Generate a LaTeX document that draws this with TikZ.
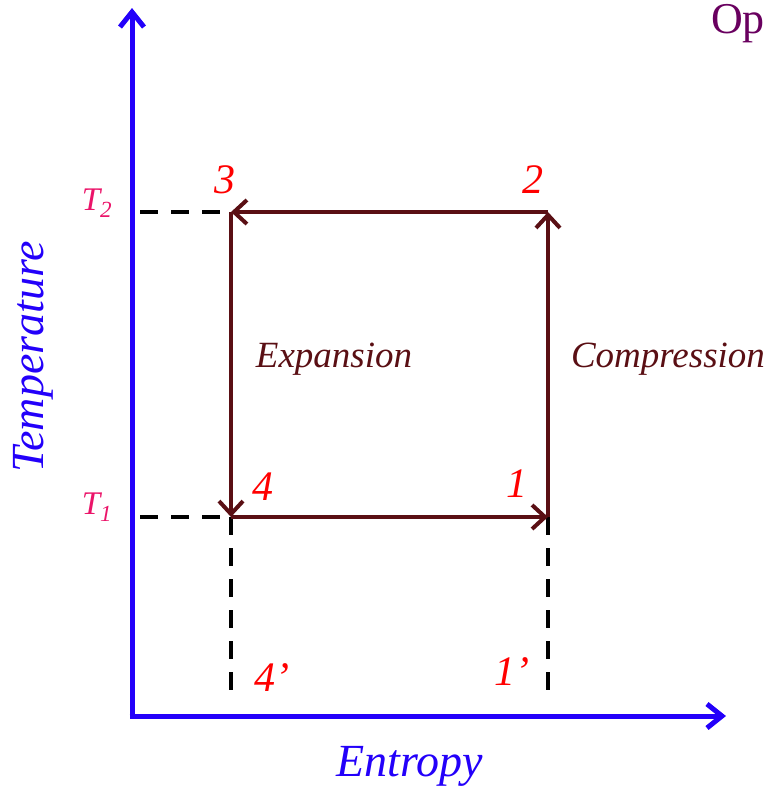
\documentclass[tikz,border=0pt]{standalone}
\usepackage{fontspec}
\setmainfont{Liberation Serif}
\usetikzlibrary{arrows.meta}
\definecolor{axisblue}{RGB}{35,0,250}
\definecolor{cyclebrown}{RGB}{90,15,20}
\definecolor{tpink}{RGB}{235,20,105}
\definecolor{oppurple}{RGB}{105,0,95}
\tikzstyle{axis}=[-{Straight Barb[length=15pt,width=24pt]}, line width=5pt, axisblue]
\tikzstyle{cycle}=[-{Straight Barb[length=13pt,width=24pt]}, line width=4pt, cyclebrown]
\tikzstyle{guide}=[line width=4pt, black, dash pattern=on 18pt off 13pt]
\tikzstyle{state}=[red, font=\fontsize{42}{46}\selectfont\itshape]
\tikzstyle{proc}=[cyclebrown, font=\fontsize{37}{40}\selectfont\itshape]
\tikzstyle{tlab}=[tpink, font=\fontsize{33}{36}\selectfont\itshape]
\begin{document}
\begin{tikzpicture}[x=1pt,y=-1pt]
\useasboundingbox (0,0) rectangle (769,793);
\coordinate (O) at (132,716);
\coordinate (Ytip) at (132,8);
\coordinate (Xtip) at (726,716);
\coordinate (p1) at (548,517);
\coordinate (p2) at (548,212);
\coordinate (p3) at (231,212);
\coordinate (p4) at (231,517);
\coordinate (q1) at (548,700);
\coordinate (q4) at (231,700);
\coordinate (a2) at (140,212);
\coordinate (a1) at (140,517);
\node[state] (n3) at (225,180) {3};
\node[state] (n2) at (533,180) {2};
\node[state] (n4) at (263,487) {4};
\node[state] (n1) at (517,484) {1};
\node[state] (n4p) at (272,678) {4’};
\node[state] (n1p) at (512,672) {1’};
\node[tlab] (T2) at (97,203) {T\textsubscript{2}};
\node[tlab] (T1) at (97,507) {T\textsubscript{1}};
\node[proc] (exp) at (334,359) {Expansion};
\node[proc] (comp) at (668,359) {Compression};
\node[axisblue, rotate=90, font=\fontsize{46}{50}\selectfont\itshape] (ylab) at (33,357) {Temperature};
\node[axisblue, font=\fontsize{46}{50}\selectfont\itshape] (xlab) at (410,766) {Entropy};
\node[oppurple, anchor=east, font=\fontsize{44}{48}\selectfont, inner xsep=4pt] (op) at (769,24) {Op};
\draw[guide] (a2)--(p3);\draw[guide] (a1)--(p4);
\draw[guide] (p4)--(q4);\draw[guide] (p1)--(q1);
\draw[cycle] (p2)--(p3);\draw[cycle] (p3)--(p4);
\draw[cycle] (p4)--(p1);\draw[cycle] (p1)--(p2);
\draw[axis] ([yshift=2pt]O)--(Ytip);\draw[axis] ([xshift=-2.5pt]O)--(Xtip);
\end{tikzpicture}
\end{document}
